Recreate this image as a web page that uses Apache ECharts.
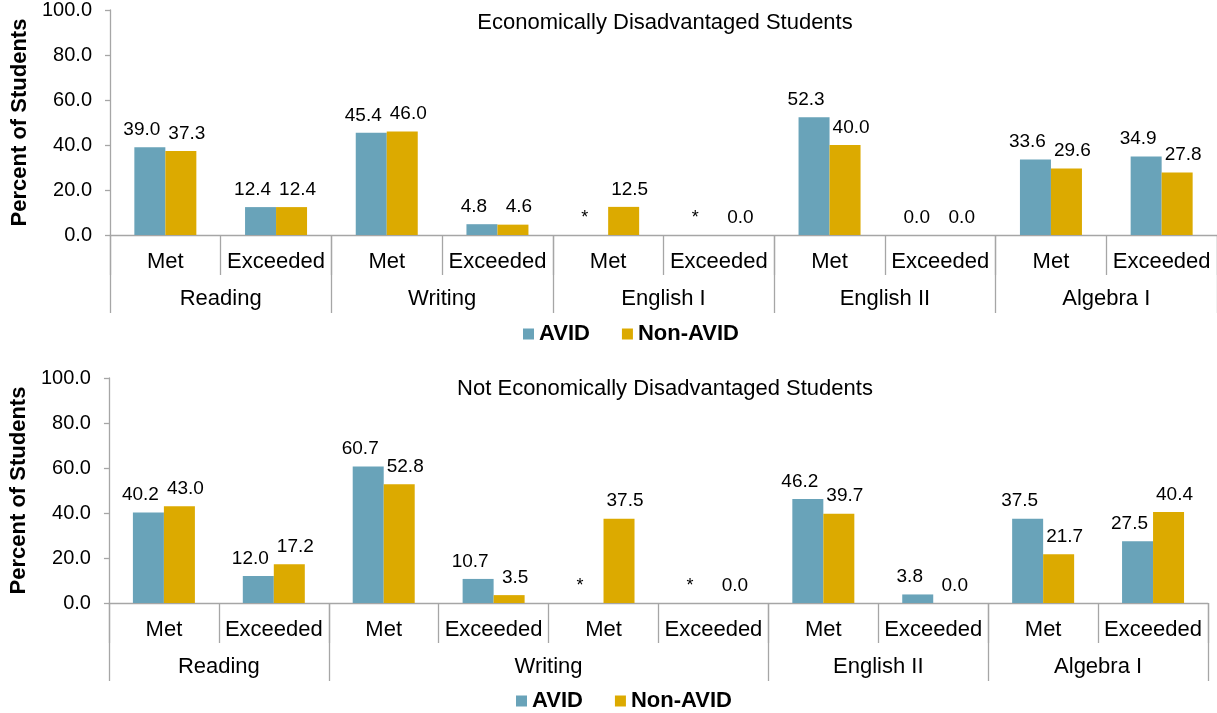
<!DOCTYPE html>
<html>
<head>
<meta charset="utf-8">
<script src="https://cdn.jsdelivr.net/npm/echarts@6/dist/echarts.min.js"></script>
<style>
html,body{margin:0;padding:0;background:#fff;}
#chart{width:1217px;height:713px;}
</style>
</head>
<body>
<div id="chart"></div>
<script>
// ---- data ----
const seriesNames = ['AVID', 'Non-AVID'];
const yTicks = [0, 20, 40, 60, 80, 100];

const title1 = 'Economically Disadvantaged Students';
const cats1 = ['Met','Exceeded','Met','Exceeded','Met','Exceeded','Met','Exceeded','Met','Exceeded'];
const groups1 = ['Reading','Writing','English I','English II','Algebra I'];
const groupSpans1 = [2, 2, 2, 2, 2];
const avid1 = [39.0, 12.4, 45.4, 4.8, null, null, 52.3, 0.0, 33.6, 34.9];
const nonAvid1 = [37.3, 12.4, 46.0, 4.6, 12.5, 0.0, 40.0, 0.0, 29.6, 27.8];

const title2 = 'Not Economically Disadvantaged Students';
const cats2 = ['Met','Exceeded','Met','Exceeded','Met','Exceeded','Met','Exceeded','Met','Exceeded'];
const groups2 = ['Reading','Writing','English II','Algebra I'];
const groupSpans2 = [2, 4, 2, 2];
const avid2 = [40.2, 12.0, 60.7, 10.7, null, null, 46.2, 3.8, 37.5, 27.5];
const nonAvid2 = [43.0, 17.2, 52.8, 3.5, 37.5, 0.0, 39.7, 0.0, 21.7, 40.4];

// ---- styling ----
const FONT = 'Liberation Sans, Arial, sans-serif';
const AXIS_GRAY = '#a6a6a6';
const COLORS = ['#69a3b9', '#dcaa00'];

function boundaries(spans) {
  const b = [0]; let s = 0;
  spans.forEach(v => { s += v; b.push(s); });
  return b;
}
function centers(spans) {
  const c = []; let s = 0;
  spans.forEach(v => { c.push(s + v / 2); s += v; });
  return c;
}

function barData(arr) {
  return arr.map(v => v === null
    ? { value: 0, itemStyle: { color: 'rgba(0,0,0,0)' }, label: { formatter: '*', fontSize: 18 } }
    : v);
}

function labelCfg(dx) {
  return {
    show: true, position: 'top', distance: 8, offset: [dx, 0],
    color: '#000', fontFamily: FONT, fontSize: 19,
    formatter: p => Number(p.value).toFixed(1)
  };
}

function catAxis(gridIndex, cats) {
  return {
    type: 'category', gridIndex, data: cats, position: 'bottom',
    axisLine: { show: true, lineStyle: { color: AXIS_GRAY, width: 1.3 } },
    axisTick: { show: true, interval: 0, alignWithLabel: false, length: 40, lineStyle: { color: AXIS_GRAY, width: 1.3 } },
    axisLabel: { interval: 0, margin: 16, color: '#000', fontFamily: FONT, fontSize: 22 },
    splitLine: { show: false }
  };
}

function groupAxis(gridIndex, groups, spans) {
  const cs = centers(spans);
  return {
    type: 'value', gridIndex, min: 0, max: 10, position: 'bottom',
    axisLine: { show: false },
    axisTick: { show: true, customValues: boundaries(spans), length: 78, lineStyle: { color: AXIS_GRAY, width: 1.3 } },
    axisLabel: {
      show: true, customValues: cs, margin: 53, color: '#000', fontFamily: FONT, fontSize: 22,
      formatter: v => { const i = cs.indexOf(v); return i >= 0 ? groups[i] : ''; }
    },
    splitLine: { show: false }
  };
}

function valAxis(gridIndex, gap) {
  return {
    type: 'value', gridIndex, min: yTicks[0], max: yTicks[yTicks.length - 1], interval: yTicks[1] - yTicks[0],
    name: 'Percent of Students', nameLocation: 'middle', nameGap: gap, nameRotate: 90,
    nameTextStyle: { color: '#000', fontFamily: FONT, fontSize: 22, fontWeight: 'bold' },
    axisLine: { show: true, lineStyle: { color: AXIS_GRAY, width: 1.3 } },
    axisTick: { show: true, length: 5, lineStyle: { color: AXIS_GRAY, width: 1.3 } },
    axisLabel: { margin: 18, color: '#000', fontFamily: FONT, fontSize: 20, formatter: v => v.toFixed(1) },
    splitLine: { show: false }
  };
}

const legendText = { color: '#000', fontFamily: FONT, fontSize: 22, fontWeight: 'bold' };

const option = {
  animation: false,
  backgroundColor: '#fff',
  color: COLORS,
  title: [
    { text: title1, left: 660, top: 7, textAlign: 'center', textStyle: { color: '#000', fontFamily: FONT, fontSize: 22, fontWeight: 'normal' } },
    { text: title2, left: 660, top: 373, textAlign: 'center', textStyle: { color: '#000', fontFamily: FONT, fontSize: 22, fontWeight: 'normal' } }
  ],
  legend: [
    { data: seriesNames, left: 518, top: 318, itemWidth: 11, itemHeight: 11, itemGap: 32, icon: 'rect', textStyle: legendText },
    { data: seriesNames, left: 511, top: 685, itemWidth: 11, itemHeight: 11, itemGap: 32, icon: 'rect', textStyle: legendText }
  ],
  grid: [
    { left: 110, width: 1107, top: 10, height: 225, containLabel: false },
    { left: 100, width: 1108, top: 378, height: 225, containLabel: false }
  ],
  xAxis: [
    catAxis(0, cats1), groupAxis(0, groups1, groupSpans1),
    catAxis(1, cats2), groupAxis(1, groups2, groupSpans2)
  ],
  yAxis: [valAxis(0, 75), valAxis(1, 72)],
  series: [
    { name: seriesNames[0], type: 'bar', xAxisIndex: 0, yAxisIndex: 0, data: barData(avid1), barWidth: 31, barGap: '0%', itemStyle: { color: COLORS[0] }, label: labelCfg(-8) },
    { name: seriesNames[1], type: 'bar', xAxisIndex: 0, yAxisIndex: 0, data: barData(nonAvid1), barWidth: 31, barGap: '0%', itemStyle: { color: COLORS[1] }, label: labelCfg(6) },
    { name: seriesNames[0], type: 'bar', xAxisIndex: 2, yAxisIndex: 1, data: barData(avid2), barWidth: 31, barGap: '0%', itemStyle: { color: COLORS[0] }, label: labelCfg(-8) },
    { name: seriesNames[1], type: 'bar', xAxisIndex: 2, yAxisIndex: 1, data: barData(nonAvid2), barWidth: 31, barGap: '0%', itemStyle: { color: COLORS[1] }, label: labelCfg(6) }
  ]
};

const chart = echarts.init(document.getElementById('chart'), null, { renderer: 'canvas' });
chart.setOption(option);
</script>
</body>
</html>
